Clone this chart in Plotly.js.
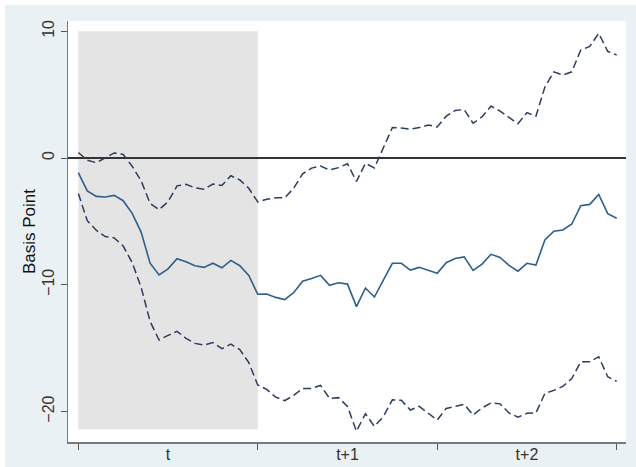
<!DOCTYPE html>
<html>
<head>
<meta charset="utf-8">
<script src="https://cdn.plot.ly/plotly-3.0.1.min.js"></script>
<style>
  html, body { margin: 0; padding: 0; background: #ffffff; }
  #chart { position: absolute; left: 5px; top: 5px; width: 631px; height: 462px; }
</style>
</head>
<body>
<div id="chart"></div>
<script>
// ---- data ----
const periodLabels = ['t', 't+1', 't+2'];
const labelPositions = [10, 30, 50];
const periodBoundaries = [0, 20, 40, 60];
const yTicks = [-20, -10, 0, 10];
const shadedPeriod = [0, 20];      // x extent of shaded period "t"
const shadedRange = [-21.4, 10];   // y extent of shaded area

const meanBP = [
  -1.15, -2.6, -3.03, -3.08, -2.95, -3.37, -4.37, -5.85, -8.3, -9.23,
  -8.75, -7.95, -8.18, -8.5, -8.63, -8.3, -8.66, -8.08, -8.5, -9.27,
  -10.75, -10.73, -11.0, -11.17, -10.63, -9.72, -9.5, -9.26, -10.05, -9.84,
  -9.95, -11.73, -10.26, -10.97, -9.63, -8.31, -8.31, -8.84, -8.63, -8.84,
  -9.1, -8.26, -7.93, -7.8, -8.87, -8.37, -7.6, -7.85, -8.48, -8.93,
  -8.31, -8.45, -6.47, -5.78, -5.68, -5.21, -3.76, -3.66, -2.87, -4.39,
  -4.76
];
const upperBP = [
  0.43, -0.18, -0.37, 0.02, 0.4, 0.28, -0.65, -1.8, -3.58, -4.07,
  -3.45, -2.2, -2.08, -2.36, -2.47, -2.05, -2.17, -1.4, -1.73, -2.39,
  -3.47, -3.25, -3.14, -3.14, -2.39, -1.25, -0.8, -0.63, -0.95, -0.76,
  -0.45, -1.85, -0.42, -0.78, 0.85, 2.4, 2.36, 2.27, 2.4, 2.6,
  2.45, 3.3, 3.75, 3.82, 2.74, 3.25, 4.1, 3.7, 3.2, 2.7,
  3.58, 3.3, 5.6, 6.8, 6.55, 6.8, 8.52, 8.8, 9.84, 8.42,
  8.13
];
const lowerBP = [
  -2.8, -4.95, -5.7, -6.2, -6.3, -6.95, -8.25, -10.2, -12.9, -14.36,
  -14.0, -13.68, -14.23, -14.63, -14.76, -14.57, -15.05, -14.69, -15.12, -16.15,
  -17.91, -18.26, -18.87, -19.15, -18.73, -18.18, -18.18, -17.95, -18.97, -18.91,
  -19.6, -21.56, -20.18, -21.18, -20.4, -19.08, -19.12, -19.89, -19.6, -20.15,
  -20.68, -19.76, -19.57, -19.44, -20.28, -19.72, -19.33, -19.4, -20.12, -20.45,
  -20.15, -20.12, -18.57, -18.34, -18.02, -17.4, -16.08, -16.08, -15.68, -17.26,
  -17.63
];

const steps = meanBP.map((_, i) => i);

const xRange = [-1.15, 61.04];
const yRange = [-22.41, 10.81];

const fontFamily = '"Liberation Sans", Arial, sans-serif';
const tickFont = { family: fontFamily, size: 16, color: '#333333' };

const traces = [
  {
    x: steps, y: upperBP, type: 'scatter', mode: 'lines',
    line: { color: '#2c3d5f', width: 1.5, dash: '8px,4px' },
    showlegend: false, hoverinfo: 'skip'
  },
  {
    x: steps, y: lowerBP, type: 'scatter', mode: 'lines',
    line: { color: '#2c3d5f', width: 1.5, dash: '8px,4px' },
    showlegend: false, hoverinfo: 'skip'
  },
  {
    x: steps, y: meanBP, type: 'scatter', mode: 'lines',
    line: { color: '#2f5f8a', width: 1.6 },
    showlegend: false, hoverinfo: 'skip'
  },
  {
    x: labelPositions, y: labelPositions.map(() => null), xaxis: 'x2', yaxis: 'y',
    type: 'scatter', mode: 'markers', showlegend: false, hoverinfo: 'skip'
  }
];

const layout = {
  width: 631, height: 462,
  margin: { l: 63, r: 10, t: 16, b: 25 },
  paper_bgcolor: '#eaf1f4',
  plot_bgcolor: '#ffffff',
  font: tickFont,
  xaxis: {
    range: xRange, tickvals: periodBoundaries, showticklabels: false,
    ticks: 'outside', ticklen: 6, tickwidth: 1, tickcolor: '#555555',
    showgrid: false, zeroline: false,
    showline: true, linecolor: '#7a7a7a', linewidth: 1.5
  },
  xaxis2: {
    overlaying: 'x', anchor: 'y', side: 'bottom',
    range: xRange, tickvals: labelPositions, ticktext: periodLabels,
    ticks: '', showgrid: false, zeroline: false, showline: false,
    tickfont: tickFont, ticklabelstandoff: 1
  },
  yaxis: {
    range: yRange, tickvals: yTicks, tickangle: -90,
    ticks: 'outside', ticklen: 6, tickwidth: 1, tickcolor: '#555555',
    showgrid: false,
    zeroline: true, zerolinecolor: '#333333', zerolinewidth: 1.8,
    showline: true, linecolor: '#7a7a7a', linewidth: 1.5,
    tickfont: tickFont, ticklabelstandoff: 0,
    title: { text: 'Basis Point', font: { family: fontFamily, size: 17, color: '#111111' }, standoff: 0 }
  },
  shapes: [
    {
      type: 'rect', layer: 'below', xref: 'x', yref: 'y',
      x0: shadedPeriod[0], x1: shadedPeriod[1], y0: shadedRange[0], y1: shadedRange[1],
      fillcolor: '#e4e4e4', line: { width: 0 }
    }
  ]
};

Plotly.newPlot('chart', traces, layout, { displayModeBar: false, staticPlot: true });
</script>
</body>
</html>
